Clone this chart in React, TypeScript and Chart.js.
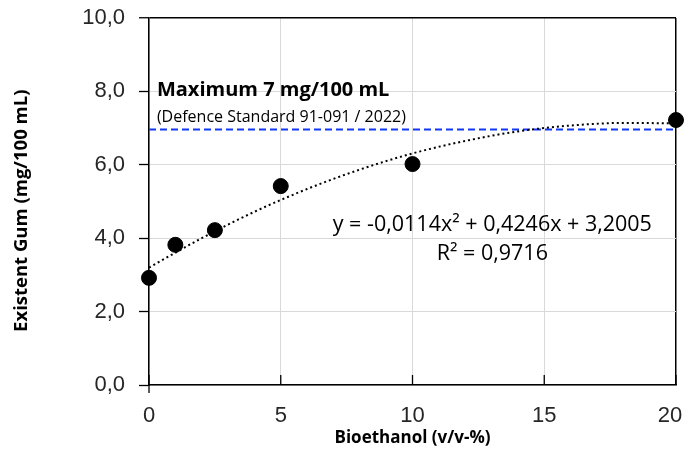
import React, { useEffect, useRef } from "react";
import { Chart, registerables } from "chart.js";

Chart.register(...registerables);

const bioethanolX = [0, 1, 2.5, 5, 10, 20];
const existentGum = [2.92, 3.82, 4.22, 5.42, 6.02, 7.22];
const trendX = [0, 2, 4, 6, 8, 10, 12, 14, 16, 18, 20];
const trendY = [3.2, 4.0, 4.72, 5.34, 5.87, 6.31, 6.65, 6.91, 7.07, 7.14, 7.13];
const limitX = [0, 20];
const limitY = [6.96, 6.96];
const xTicks = [0, 5, 10, 15, 20];
const yTicks = [0, 2, 4, 6, 8, 10];

const limitTitle = "Maximum 7 mg/100 mL";
const limitSource = "(Defence Standard 91-091 / 2022)";
const equationText = "y = -0,0114x² + 0,4246x + 3,2005";
const r2Text = "R² = 0,9716";

const annotFont = "'Open Sans', 'Noto Sans', sans-serif";
const tickFont = "'Liberation Sans', Arial, sans-serif";

const overlayPlugin = {
  id: "overlay",
  afterDatasetsDraw(chart: any) {
    const { ctx, scales } = chart;
    const xs = scales.x;
    const ys = scales.y;
    ctx.save();
    // inward x ticks
    ctx.strokeStyle = "#000";
    ctx.lineWidth = 1.3;
    const bottom = ys.getPixelForValue(0);
    xTicks.forEach((t, i) => {
      const px = xs.getPixelForValue(t);
      ctx.beginPath();
      ctx.moveTo(px, bottom - 10);
      ctx.lineTo(px, i === 0 ? bottom + 8 : bottom);
      ctx.stroke();
    });
    // texts
    ctx.fillStyle = "#000";
    ctx.textBaseline = "middle";
    ctx.textAlign = "left";
    ctx.font = `bold 20px ${annotFont}`;
    ctx.fillText(limitTitle, xs.getPixelForValue(0.3), ys.getPixelForValue(8.04));
    ctx.font = `16px ${annotFont}`;
    ctx.fillText(limitSource, xs.getPixelForValue(0.3), ys.getPixelForValue(7.3));
    ctx.textAlign = "center";
    ctx.font = `21.5px ${annotFont}`;
    ctx.fillText(equationText, xs.getPixelForValue(13.03), ys.getPixelForValue(4.36));
    ctx.fillText(r2Text, xs.getPixelForValue(13.03), ys.getPixelForValue(3.57));
    ctx.restore();
  },
};

const fmt = (v: number) => v.toFixed(1).replace(".", ",");

export default function App() {
  const ref = useRef<HTMLCanvasElement>(null);
  useEffect(() => {
    if (!ref.current) return;
    const chart = new Chart(ref.current, {
      type: "scatter",
      data: {
        datasets: [
          {
            label: "limit",
            data: limitX.map((x, i) => ({ x, y: limitY[i] })),
            showLine: true,
            borderColor: "#1238f5",
            borderWidth: 2,
            borderDash: [7, 4],
            pointRadius: 0,
            order: 3,
          },
          {
            label: "trend",
            data: trendX.map((x, i) => ({ x, y: trendY[i] })),
            showLine: true,
            borderColor: "#000",
            borderWidth: 2,
            borderDash: [2, 3],
            pointRadius: 0,
            cubicInterpolationMode: "monotone",
            order: 2,
          },
          {
            label: "Existent Gum",
            data: bioethanolX.map((x, i) => ({ x, y: existentGum[i] })),
            backgroundColor: "#000",
            borderColor: "#000",
            pointRadius: 7.5,
            pointHoverRadius: 7.5,
            clip: false,
            order: 1,
          },
        ],
      },
      options: {
        animation: false,
        responsive: false,
        events: [],
        layout: { padding: { left: 0, top: 18, right: 10, bottom: 0 } },
        plugins: { legend: { display: false }, tooltip: { enabled: false } },
        scales: {
          x: {
            type: "linear",
            min: 0,
            max: 20,
            afterBuildTicks: (s: any) => {
              s.ticks = xTicks.map((v) => ({ value: v }));
            },
            afterFit: (s: any) => {
              s.height = 73;
              s.paddingLeft = 0;
              s.paddingRight = 0;
            },
            ticks: {
              font: { family: tickFont, size: 22 },
              color: "#262626",
              padding: 18,
              maxRotation: 0,
              callback: (v: any) => (Number(v) === 20 ? "20\u2007" : String(v)),
            },
            grid: {
              color: (c: any) => (c.tick && c.tick.value === 20 ? "#000" : "#d9d9d9"),
              lineWidth: (c: any) => (c.tick && c.tick.value === 20 ? 1.5 : 1),
              drawTicks: false,
            },
            border: { display: true, color: "#000", width: 1.5 },
            title: {
              display: true,
              text: "Bioethanol (v/v-%)",
              font: { family: annotFont, size: 17, weight: "bold" },
              color: "#000",
              padding: { top: 0, bottom: 10 },
            },
          },
          y: {
            type: "linear",
            min: 0,
            max: 10,
            afterBuildTicks: (s: any) => {
              s.ticks = yTicks.map((v) => ({ value: v }));
            },
            afterFit: (s: any) => {
              s.width = 149;
              s.paddingTop = 0;
              s.paddingBottom = 0;
            },
            ticks: {
              font: { family: tickFont, size: 22 },
              color: "#262626",
              padding: 14,
              callback: (v: any) => fmt(Number(v)),
            },
            grid: {
              color: (c: any) => (c.tick && c.tick.value === 10 ? "#000" : "#d9d9d9"),
              lineWidth: (c: any) => (c.tick && c.tick.value === 10 ? 1.5 : 1),
              tickColor: "#000",
              tickLength: 10,
              tickWidth: 1.3,
            },
            border: { display: true, color: "#000", width: 1.5 },
            title: {
              display: true,
              text: "Existent Gum (mg/100 mL)\u2002\u2002",
              font: { family: annotFont, size: 18.5, weight: "bold" },
              color: "#000",
              padding: { top: 11, bottom: 0 },
            },
          },
        },
      },
      plugins: [overlayPlugin],
    });
    return () => chart.destroy();
  }, []);
  return (
    <div style={{ position: "absolute", left: 0, top: 0, width: 686, height: 458, background: "#fff" }}>
      <canvas ref={ref} width={686} height={458} />
    </div>
  );
}
